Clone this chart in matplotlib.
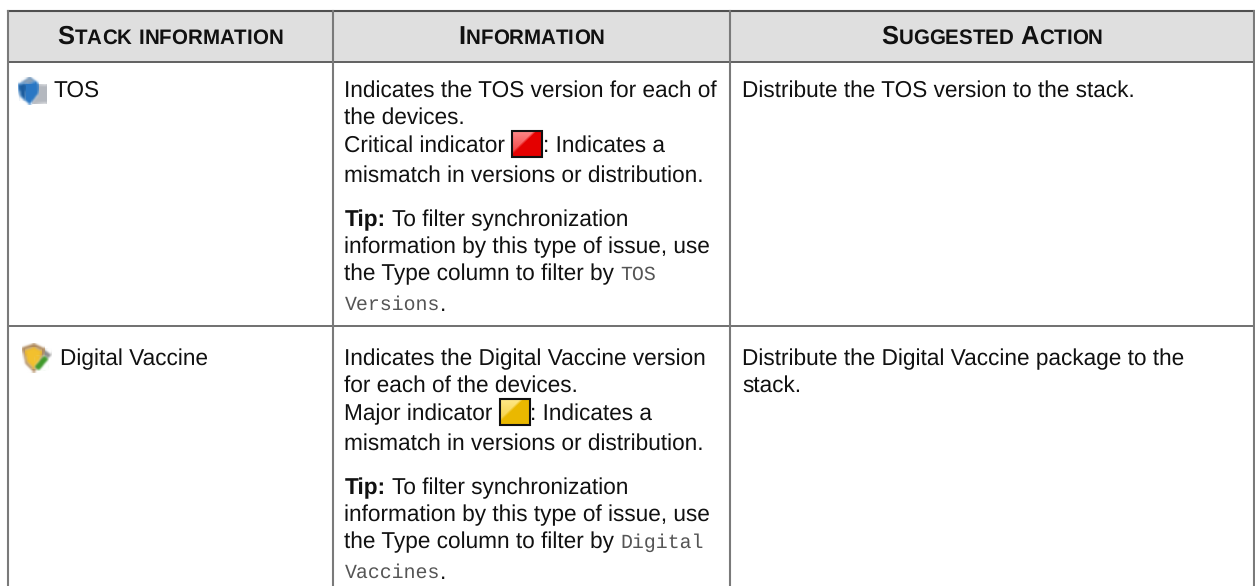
import matplotlib
matplotlib.use('Agg')
import matplotlib.pyplot as plt
import numpy as np
from matplotlib.patches import Polygon, Rectangle

plt.rcParams['text.hinting'] = 'no_hinting'
plt.rcParams['text.hinting_factor'] = 8

W, H = 1255, 586
SANS = 'Liberation Sans'
MONO = 'Liberation Mono'

# table contents
headers = ['Stack information', 'Information', 'Suggested Action']
stack_items = ['TOS', 'Digital Vaccine']
info_lines = [
    ['Indicates the TOS version for each of', 'the devices.'],
    ['Indicates the Digital Vaccine version', 'for each of the devices.'],
]
indicator_labels = ['Critical indicator ', 'Major indicator ']
indicator_colors = [('#ff8a8a', '#e40000'), ('#ffe98a', '#eab800')]
indicator_text = ': Indicates a'
mismatch_line = 'mismatch in versions or distribution.'
tip_lines = ['To filter synchronization', 'information by this type of issue, use', 'the Type column to filter by ']
tip_code = [['TOS', 'Versions'], ['Digital', 'Vaccines']]
actions = [
    ['Distribute the TOS version to the stack.'],
    ['Distribute the Digital Vaccine package to the', 'stack.'],
]

# layout in pixels
col_x = [7.5, 333, 730, 1254]
row_y = [11, 62, 326]
bottom = 586
body_pt = 16.3
mono_pt = 14.35
line_offsets = [0, 27, 55, 85]
tip_offsets = [129, 156, 183, 214]
row_text_y = [88.5, 356.5]

fig = plt.figure(figsize=(W / 100, H / 100), dpi=100)
ax = fig.add_axes([0, 0, 1, 1])
ax.axis('off')
renderer = fig.canvas.get_renderer()


def put(x, y, s, family=SANS, size=body_pt, color='#111111', weight='normal'):
    t = ax.text(x, y, s, family=family, fontsize=size, color=color, weight=weight,
                va='center_baseline', ha='left')
    return x + t.get_window_extent(renderer).width


def advance(c, size):
    t = ax.text(0, 0, 'x' + c + 'x', family=SANS, fontsize=size, weight='bold')
    wa = t.get_window_extent(renderer).width
    t.set_text('xx')
    wb = t.get_window_extent(renderer).width
    t.remove()
    return wa - wb


def small_caps(cx, y, s):
    big = 18.4
    small = 14.8
    parts = [(c.upper(), big if c.isupper() or c == ' ' else small) for c in s]
    widths = [advance(c, size) for c, size in parts]
    x = cx - sum(widths) / 2
    for (c, size), w in zip(parts, widths):
        ax.text(x, y, c, family=SANS, fontsize=size, weight='bold', color='#111111',
                va='baseline', ha='left')
        x += w


def draw_indicator(x, cy, c_light, c_dark):
    w, h = 31, 27
    xx, yy = np.meshgrid(np.linspace(0, 1, 31), np.linspace(0, 1, 27))
    m = np.clip(((xx + yy * 0.9) - 0.72) / 0.12, 0, 1)[..., None]
    light = np.array(matplotlib.colors.to_rgb(c_light))
    dark = np.array(matplotlib.colors.to_rgb(c_dark))
    t = yy[..., None] * 0.6
    img = m * dark + (1 - m) * (light * (1 - t) + dark * t)
    ax.imshow(img, extent=(x, x + w, cy + h / 2, cy - h / 2), aspect='auto', zorder=3,
              interpolation='bilinear')
    ax.add_patch(Rectangle((x + 0.5, cy - h / 2 + 0.5), w - 1, h - 1, fc='none',
                           ec='#111111', lw=1.5, zorder=4))


def blur(img, dpi):
    # small box blur so the icons look like scaled-up bitmaps
    out = img.copy()
    for _ in range(2):
        for axis in (0, 1):
            out = (np.roll(out, 1, axis) + out + np.roll(out, -1, axis)) / 3
    return out, 0, 0


def add_icon(points, color):
    p = Polygon(points, fc=color, ec='none', zorder=3)
    p.set_agg_filter(blur)
    ax.add_patch(p)


def shield_blue(x, y):
    add_icon([(x + 14, y + 7), (x + 29, y + 8), (x + 29, y + 26), (x + 14, y + 27)], '#b4b8bf')
    add_icon([(x, y + 7), (x + 12, y), (x + 20, y + 5), (x + 21, y + 16), (x + 12, y + 28), (x + 2, y + 20)], '#2a78c4')
    add_icon([(x + 1, y + 8), (x + 7, y + 6), (x + 8, y + 24), (x + 3, y + 19)], '#1d5c9c')
    add_icon([(x + 3, y + 5), (x + 12, y), (x + 17, y + 4), (x + 10, y + 7)], '#8fa3b8')


def shield_green(x, y):
    add_icon([(x + 21, y + 5), (x + 30, y + 12), (x + 25, y + 17), (x + 19, y + 10)], '#8c8c8c')
    add_icon([(x, y + 4), (x + 12, y), (x + 23, y + 5), (x + 21, y + 20), (x + 12, y + 30), (x + 3, y + 21)], '#b08a5c')
    add_icon([(x + 3, y + 7), (x + 12, y + 4), (x + 20, y + 8), (x + 18, y + 19), (x + 12, y + 26), (x + 5, y + 19)], '#f3c02e')
    add_icon([(x + 12, y + 24), (x + 22, y + 12), (x + 27, y + 16), (x + 17, y + 28)], '#3f9a2c')


# header band
ax.add_patch(Rectangle((col_x[0], row_y[0]), col_x[3] - col_x[0], row_y[1] - row_y[0],
                       fc='#dfdfdf', ec='none'))

# grid
ax.plot([col_x[0], col_x[3]], [row_y[0], row_y[0]], color='#505050', lw=1.5)
ax.plot([col_x[0], col_x[3]], [row_y[1], row_y[1]], color='#606060', lw=1.4)
ax.plot([col_x[0], col_x[3]], [row_y[2], row_y[2]], color='#707070', lw=1.4)
for x in col_x:
    ax.plot([x, x], [row_y[0], bottom], color='#7a7a7a', lw=1.5)

# header text
for i, h in enumerate(headers):
    small_caps((col_x[i] + col_x[i + 1]) / 2, 44, h)

# rows
stack_x = [53.5, 60]
for r, y0 in enumerate(row_text_y):
    put(stack_x[r], y0, stack_items[r])
    x0 = 344.5
    put(x0, y0 + line_offsets[0], info_lines[r][0])
    put(x0, y0 + line_offsets[1], info_lines[r][1])
    xe = put(x0, y0 + line_offsets[2], indicator_labels[r])
    draw_indicator(xe, y0 + line_offsets[2], *indicator_colors[r])
    put(xe + 31, y0 + line_offsets[2], indicator_text)
    put(x0, y0 + line_offsets[3], mismatch_line)

    xe = put(x0, y0 + tip_offsets[0], 'Tip:', weight='bold')
    put(xe + 6, y0 + tip_offsets[0], tip_lines[0])
    put(x0, y0 + tip_offsets[1], tip_lines[1])
    xe = put(x0, y0 + tip_offsets[2], tip_lines[2])
    put(xe, y0 + tip_offsets[2] + 1, tip_code[r][0], family=MONO, size=mono_pt, color='#555555')
    xe = put(x0, y0 + tip_offsets[3], tip_code[r][1], family=MONO, size=mono_pt, color='#555555')
    put(xe, y0 + tip_offsets[3], '.')

    for k, s in enumerate(actions[r]):
        put(742, y0 + line_offsets[k], s)

shield_blue(18, 77)
shield_green(22, 343)

ax.set_xlim(0, W)
ax.set_ylim(H, 0)
fig.savefig('out.png', dpi=100, facecolor='white')
